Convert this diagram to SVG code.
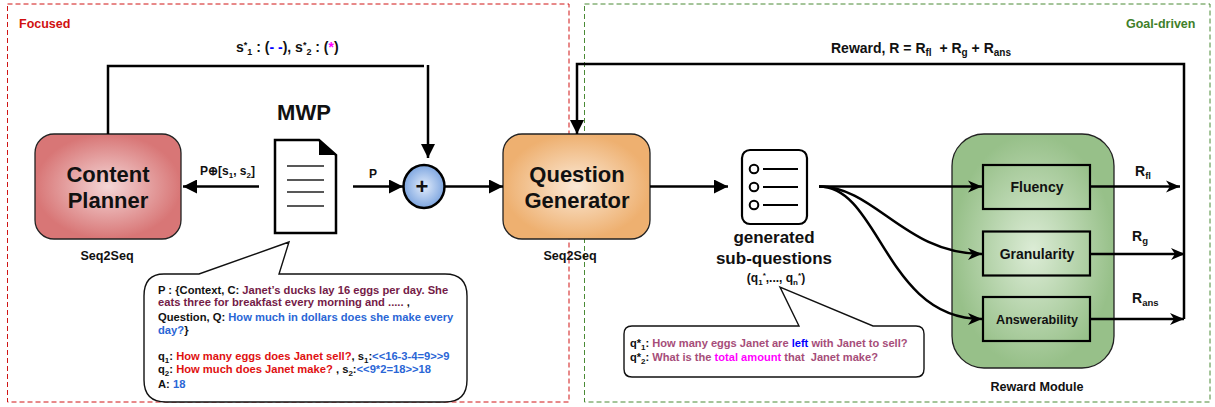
<svg xmlns="http://www.w3.org/2000/svg" width="1215" height="407" viewBox="0 0 1215 407">
<style>
text{font-family:"Liberation Sans",Arial,sans-serif;font-weight:700;fill:#111}
.c{text-anchor:middle}
.line{fill:none;stroke:#000;stroke-width:2.5}
.thin{fill:#fff;stroke:#111;stroke-width:1.4}
.s{font-size:12.6px}
.b{font-size:11.2px}
.m{font-size:11.1px}
.pur{fill:#741b47}.blu{fill:#2a66d6}.red{fill:#e01010}.pk{fill:#a64d79}.mag{fill:#ff00ff}.pb{fill:#0000ff}
</style>
<defs>
<radialGradient id="gr"><stop offset="0" stop-color="#f4d6d6"/><stop offset="1" stop-color="#d87676"/></radialGradient>
<radialGradient id="go"><stop offset="0" stop-color="#fbe9d6"/><stop offset="1" stop-color="#eeb070"/></radialGradient>
<radialGradient id="gb"><stop offset="0" stop-color="#e2ecfb"/><stop offset="1" stop-color="#7ea6e0"/></radialGradient>
<radialGradient id="gg"><stop offset="0" stop-color="#dcecd6"/><stop offset="1" stop-color="#97c089"/></radialGradient>
<marker id="tri" viewBox="0 0 14 14" refX="14" refY="7" markerWidth="14" markerHeight="14" orient="auto" markerUnits="userSpaceOnUse"><path d="M0 0L14 7L0 14Z" fill="#000"/></marker>
<marker id="open" viewBox="0 0 14 14" refX="14" refY="7" markerWidth="14" markerHeight="14" orient="auto" markerUnits="userSpaceOnUse"><path d="M0 1L14 7L0 13L4 7Z" fill="#000"/></marker>
</defs>

<rect id="focused-frame" x="7.500" y="4" width="561.500" height="398" fill="none" stroke="#d01515" stroke-dasharray="5 3"/>
<rect id="goal-frame" x="584.500" y="4" width="625.500" height="398" fill="none" stroke="#4a8a35" stroke-dasharray="5 3"/>
<text x="19" y="28" font-size="12.500" style="fill:#d01010">Focused</text>
<text x="1126" y="28" font-size="12.500" style="fill:#3f8029">Goal-driven</text>

<g id="content-planner">
<rect x="35" y="134" width="146" height="105" rx="19" fill="url(#gr)" stroke="#222" stroke-width="1.3"/>
<text class="c" x="108" y="182" font-size="22">Content</text>
<text class="c" x="108" y="208" font-size="22">Planner</text>
<text class="c s" x="107" y="260">Seq2Seq</text>
</g>
<g id="mwp">
<text class="c" x="304" y="120" font-size="22">MWP</text>
<path d="M275 140H319L336 155V233H275Z" fill="#fff" stroke="#000" stroke-width="2.500"/>
<path d="M319 140L336 155H319Z" fill="#000"/>
<path d="M287 166H324M287 180H324M287 192H324M287 206H324" stroke="#222" stroke-width="1.500"/>
</g>
<g id="plus">
<ellipse cx="424" cy="186.500" rx="20.500" ry="21.500" fill="url(#gb)" stroke="#000" stroke-width="2.500"/>
<text class="c" x="422" y="194" font-size="22">+</text>
</g>
<g id="question-generator">
<rect x="503" y="134" width="147" height="105" rx="19" fill="url(#go)" stroke="#222" stroke-width="1.300"/>
<text class="c" x="577" y="182" font-size="22">Question</text>
<text class="c" x="577" y="208" font-size="22">Generator</text>
<text class="c s" x="570" y="260">Seq2Seq</text>
</g>
<g id="sub-questions">
<rect x="742" y="150" width="65" height="74" rx="8" fill="#fff" stroke="#000" stroke-width="2.200"/>
<circle cx="754" cy="169" r="4.300" fill="none" stroke="#000" stroke-width="2"/>
<circle cx="754" cy="187" r="4.300" fill="none" stroke="#000" stroke-width="2"/>
<circle cx="754" cy="205" r="4.300" fill="none" stroke="#000" stroke-width="2"/>
<path d="M763 169H798M763 187H798M763 205H798" stroke="#000" stroke-width="2.200"/>
<text class="c" x="774" y="243" font-size="17">generated</text>
<text class="c" x="774" y="264" font-size="17">sub-questions</text>
<text class="c s" x="776" y="282" style="font-size:12px">(q<tspan font-size="8" dy="3">1</tspan><tspan font-size="8" dy="-7">*</tspan><tspan dy="4">,..., q</tspan><tspan font-size="8" dy="3">n</tspan><tspan font-size="8" dy="-7">*</tspan><tspan dy="4">)</tspan></text>
</g>
<g id="reward-module">
<rect x="952" y="134" width="162" height="234" rx="32" fill="url(#gg)" stroke="#222" stroke-width="1.300"/>
<text class="c s" x="1037" y="391">Reward Module</text>
</g>
<g id="fluency">
<rect x="983" y="165" width="107" height="44" fill="none" stroke="#000" stroke-width="2.200"/>
<text class="c" x="1037" y="192" font-size="14">Fluency</text>
</g>
<g id="granularity">
<rect x="983" y="231.500" width="107" height="44" fill="none" stroke="#000" stroke-width="2.200"/>
<text class="c" x="1037" y="259" font-size="14">Granularity</text>
</g>
<g id="answerability">
<rect x="983" y="297" width="107" height="44" fill="none" stroke="#000" stroke-width="2.200"/>
<text class="c" x="1037" y="324" font-size="12.600">Answerability</text>
</g>

<g id="connectors">
<path class="line" d="M108 134V66H424"/>
<path class="line" d="M428 65V158" marker-end="url(#tri)"/>
<path class="line" d="M259 186.500H183" marker-end="url(#tri)"/>
<path class="line" d="M353 186.500H403" marker-end="url(#tri)"/>
<path class="line" d="M445 186.500H503" marker-end="url(#tri)"/>
<path class="line" d="M650 186.500H728" marker-end="url(#tri)"/>
<path class="line" d="M1184 319V64H577V134" marker-end="url(#tri)"/>
<path class="line" d="M819 186.500H982" marker-end="url(#open)"/>
<path class="line" d="M819 186.500C875 186.500 905 254 982 254" marker-end="url(#open)"/>
<path class="line" d="M819 186.500C880 186.500 885 319 982 319" marker-end="url(#open)"/>
<path class="line" d="M1090 186.500H1180" marker-end="url(#open)"/>
<path class="line" d="M1090 254H1185" marker-end="url(#open)"/>
<path class="line" d="M1090 319H1184" marker-end="url(#open)"/>
</g>

<text x="236" y="52" font-size="14">s<tspan font-size="9" dy="-4">*</tspan><tspan font-size="9" dy="7">1</tspan><tspan dy="-3"> : (</tspan><tspan class="pb">- -</tspan>), s<tspan font-size="9" dy="-4">*</tspan><tspan font-size="9" dy="7">2</tspan><tspan dy="-3"> : (</tspan><tspan class="mag">*</tspan>)</text>
<text x="200" y="175" font-size="12">P⊕[s<tspan font-size="8" dy="3">1</tspan><tspan dy="-3">, s</tspan><tspan font-size="8" dy="3">2</tspan><tspan dy="-3">]</tspan></text>
<text x="369" y="178" font-size="12">P</text>
<text x="831" y="53" font-size="14">Reward, R = R<tspan font-size="10" dy="3">fl</tspan><tspan dy="-3">&#160; + R</tspan><tspan font-size="10" dy="3">g</tspan><tspan dy="-3"> + R</tspan><tspan font-size="10" dy="3">ans</tspan></text>
<text x="1135" y="176" font-size="14">R<tspan font-size="9.500" dy="3">fl</tspan></text>
<text x="1132" y="241" font-size="14">R<tspan font-size="9.500" dy="3">g</tspan></text>
<text x="1132" y="303" font-size="14">R<tspan font-size="9.500" dy="3">ans</tspan></text>

<g id="bubble-mwp">
<path class="thin" d="M164 274H199L289 242L279 274H445Q467 274 467 296V380Q467 402 445 402H166Q144 402 144 380V296Q144 274 164 274Z"/>
<text class="b" x="158" y="294">P : {Context, C: <tspan class="pur">Janet’s ducks lay 16 eggs per day. She</tspan></text>
<text class="b pur" x="158" y="306">eats three for breakfast every morning and ..... <tspan style="fill:#111">,</tspan></text>
<text class="b" x="158" y="321">Question, Q: <tspan class="blu">How much in dollars does she make every</tspan></text>
<text class="b" x="158" y="334"><tspan class="blu">day?</tspan>}</text>
<text class="b" x="158" y="360">q<tspan font-size="8" dy="2.500">1</tspan><tspan dy="-2.500">: </tspan><tspan class="red">How many eggs does Janet sell?</tspan>, s<tspan font-size="8" dy="2.500">1</tspan><tspan dy="-2.500">:</tspan><tspan class="blu">&lt;&lt;16-3-4=9&gt;&gt;9</tspan></text>
<text class="b" x="158" y="373">q<tspan font-size="8" dy="2.500">2</tspan><tspan dy="-2.500">: </tspan><tspan class="red">How much does Janet make? </tspan>, s<tspan font-size="8" dy="2.500">2</tspan><tspan dy="-2.500">:</tspan><tspan class="blu">&lt;&lt;9*2=18&gt;&gt;18</tspan></text>
<text class="b" x="158" y="388">A: <tspan class="blu">18</tspan></text>
</g>
<g id="bubble-sub">
<path class="thin" d="M632 326H799L780 287L873 326H916Q924 326 924 334V369Q924 377 916 377H632Q624 377 624 369V334Q624 326 632 326Z"/>
<text class="m" x="630" y="347">q*<tspan font-size="8" dy="3">1</tspan><tspan dy="-3">: </tspan><tspan class="pk">How many eggs Janet are </tspan><tspan class="pb">left</tspan><tspan class="pk"> with Janet to sell?</tspan></text>
<text class="m" x="630" y="361">q*<tspan font-size="8" dy="3">2</tspan><tspan dy="-3">: </tspan><tspan class="pk">What is the </tspan><tspan class="mag">total amount</tspan><tspan class="pk"> that&#160; Janet make?</tspan></text>
</g>
</svg>
